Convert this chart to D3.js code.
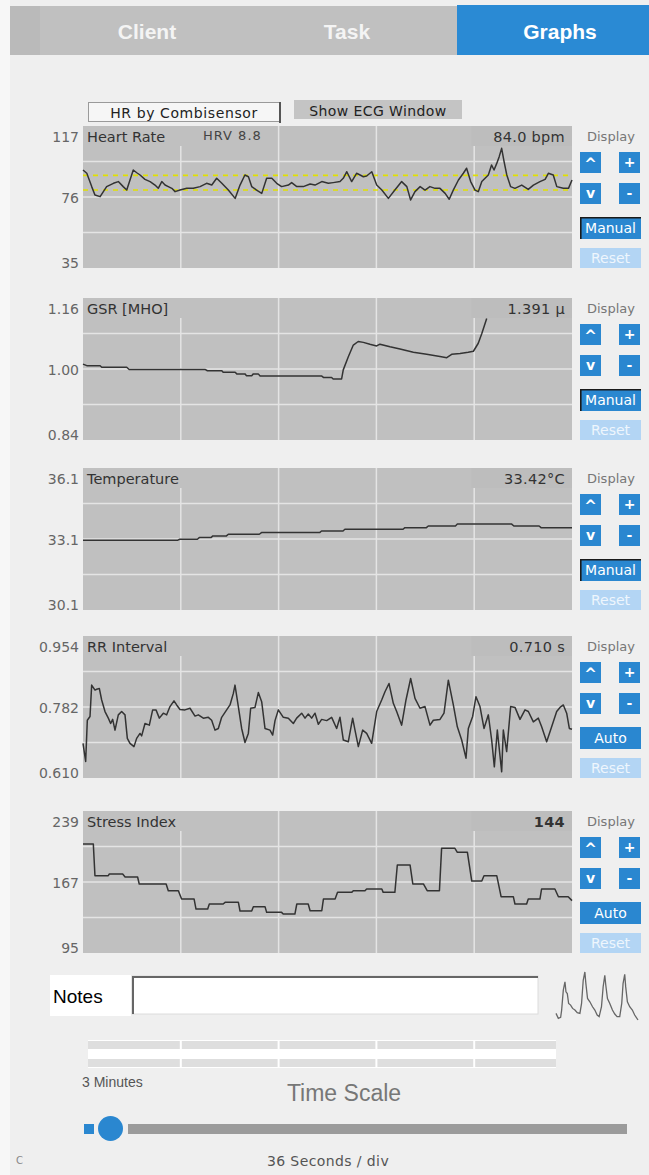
<!DOCTYPE html>
<html><head><meta charset="utf-8">
<script src="https://cdn.jsdelivr.net/npm/d3@7"></script>
<style>
html,body{margin:0;padding:0;background:#f7f7f7;}
svg{display:block;}
text{font-family:"DejaVu Sans",Verdana,sans-serif;}
</style></head>
<body>
<svg id="c" width="649" height="1175"></svg>
<script>
// ---------- data ----------
const tabs = ["Client", "Task", "Graphs"];
const timeDomain = [0, 180]; // seconds (3 minutes, 36 s/div)
const timeDivs = [0, 36, 72, 108, 144, 180];

const hrSeries = [[0,91.6],[1.4,89.7],[3.2,82.0],[4.4,77.2],[6.3,76.2],[7.5,79.1],[8.7,82.0],[11.2,83.9],[13.0,84.9],[14.8,82.0],[16.1,80.0],[17.3,85.8],[18.5,91.6],[19.8,90.0],[21.0,88.7],[22.8,86.2],[24.7,84.9],[26.5,82.9],[27.7,81.0],[29.0,84.9],[30.2,82.9],[31.4,82.0],[32.7,81.0],[33.9,79.1],[35.7,80.0],[38.2,81.0],[40.6,81.0],[43.1,82.0],[45.5,83.9],[47.4,82.9],[49.2,86.8],[51.1,83.9],[53.5,80.0],[56.0,75.2],[57.8,82.9],[59.6,88.7],[60.9,87.7],[62.1,82.0],[63.9,80.0],[65.8,78.1],[67.6,86.8],[69.5,86.8],[71.3,83.9],[73.1,82.0],[75.6,82.9],[76.8,84.3],[78.7,82.0],[81.1,82.0],[83.6,83.5],[85.4,82.9],[87.9,84.9],[90.3,83.9],[92.1,84.3],[94.6,84.9],[95.8,86.8],[97.1,90.6],[98.9,84.9],[100.7,89.7],[102.0,88.7],[103.2,87.7],[104.4,88.1],[106.3,90.6],[108.1,82.9],[110.0,80.0],[112.4,75.2],[114.8,80.0],[117.3,84.9],[119.2,82.0],[120.6,74.3],[122.2,79.1],[124.1,82.0],[125.9,80.0],[127.7,82.0],[129.6,81.0],[131.4,81.0],[133.3,78.1],[134.8,74.7],[136.3,80.0],[138.2,85.8],[140.0,89.7],[141.2,92.6],[142.7,84.9],[144.3,80.0],[145.5,79.1],[146.8,84.9],[148.0,86.8],[149.2,88.7],[150.4,94.5],[151.3,91.6],[152.3,95.4],[153.2,99.3],[154.1,104.1],[155.0,96.4],[156.0,88.7],[157.4,82.0],[159.0,81.0],[161.5,82.9],[163.9,80.4],[165.8,82.9],[168.2,84.9],[170.1,86.2],[171.3,89.7],[173.1,88.7],[174.4,82.0],[176.8,81.0],[178.7,81.0],[180,85.8]];
const hrBand = [80.0, 88.5];

const gsrSeries = [[0,1.011],[1.4,1.0075],[6.3,1.0075],[6.9,1.004],[16.1,1.004],[17.0,0.999],[44.9,0.999],[45.8,0.996],[51.1,0.996],[51.6,0.9925],[56.0,0.9925],[56.6,0.989],[59.6,0.989],[60.2,0.985],[62.1,0.985],[62.7,0.989],[64.5,0.989],[65.2,0.984],[87.9,0.984],[88.5,0.981],[91.5,0.981],[92.1,0.9775],[95.2,0.9775],[95.8,0.998],[97.7,1.028],[99.5,1.054],[101.3,1.062],[103.2,1.060],[105.6,1.0556],[108.1,1.052],[109.3,1.056],[113.0,1.050],[116.7,1.045],[121.6,1.0376],[126.5,1.033],[131.4,1.028],[133.9,1.0256],[135.7,1.033],[138.8,1.035],[141.8,1.0376],[143.7,1.040],[145.5,1.058],[146.8,1.080],[148.6,1.114]];

const tempSeries = [[0,33.05],[34.9,33.05],[35.6,33.09],[42.1,33.09],[42.8,33.16],[47.1,33.16],[47.8,33.23],[52.8,33.23],[53.5,33.30],[64.9,33.30],[65.7,33.37],[87.1,33.37],[87.8,33.44],[95.7,33.44],[96.4,33.51],[117.8,33.51],[118.5,33.58],[126.4,33.58],[127.1,33.65],[137.1,33.65],[137.8,33.73],[157.8,33.73],[158.6,33.65],[167.9,33.65],[168.6,33.58],[180,33.58]];

const rrSeries = [[0,0.694],[0.98,0.650],[1.59,0.750],[2.58,0.759],[3.19,0.835],[4.42,0.823],[5.03,0.825],[6.01,0.827],[6.87,0.799],[8.10,0.771],[9.32,0.755],[10.18,0.742],[10.92,0.752],[11.78,0.726],[13.0,0.763],[14.23,0.771],[15.46,0.763],[16.32,0.706],[17.30,0.694],[18.77,0.686],[19.75,0.706],[20.98,0.718],[21.59,0.712],[22.82,0.742],[24.42,0.738],[25.64,0.775],[26.87,0.775],[28.10,0.755],[29.57,0.767],[30.80,0.763],[32.02,0.783],[33.49,0.797],[34.48,0.787],[35.70,0.776],[37.54,0.775],[39.39,0.779],[41.23,0.760],[42.45,0.763],[44.29,0.755],[46.13,0.757],[47.36,0.750],[48.59,0.726],[49.81,0.730],[51.04,0.757],[52.88,0.775],[54.11,0.787],[55.34,0.815],[55.95,0.835],[57.18,0.783],[58.40,0.730],[59.63,0.696],[60.86,0.718],[61.72,0.779],[63.31,0.781],[64.54,0.817],[65.77,0.795],[66.99,0.730],[68.83,0.726],[69.82,0.714],[70.68,0.749],[71.90,0.775],[73.74,0.757],[75.58,0.755],[77.42,0.742],[78.65,0.755],[80.49,0.767],[81.72,0.755],[82.94,0.765],[84.17,0.755],[85.40,0.767],[86.62,0.740],[87.85,0.752],[89.69,0.749],[91.53,0.757],[93.37,0.730],[94.60,0.757],[95.83,0.702],[97.67,0.698],[99.26,0.755],[100.12,0.726],[101.35,0.686],[102.94,0.726],[104.42,0.718],[106.26,0.694],[108.10,0.771],[109.94,0.799],[111.16,0.819],[112.64,0.839],[114.23,0.791],[115.46,0.771],[117.30,0.738],[118.89,0.799],[120.61,0.851],[122.21,0.803],[124.05,0.779],[125.89,0.783],[127.73,0.738],[128.96,0.750],[131.41,0.752],[132.88,0.767],[134.48,0.847],[136.32,0.787],[137.79,0.734],[139.39,0.702],[140.98,0.658],[141.84,0.730],[143.43,0.759],[144.66,0.807],[146.13,0.783],[147.61,0.730],[149.20,0.763],[150.43,0.702],[151.41,0.637],[152.51,0.726],[154.11,0.625],[154.72,0.726],[155.95,0.674],[157.42,0.783],[159.02,0.781],[160.86,0.752],[162.70,0.775],[163.93,0.771],[165.77,0.746],[167.61,0.755],[168.83,0.734],[170.67,0.698],[172.51,0.734],[174.36,0.771],[175.58,0.781],[176.81,0.787],[178.04,0.767],[179.02,0.730],[180,0.728]];

const stressSeries = [[0,205.5],[3.8,205.5],[4.4,173.4],[9.3,173.4],[9.7,175.1],[14.6,175.1],[15.5,172.1],[20.1,172.1],[20.7,165.0],[30.6,165.0],[31.4,158.2],[35.1,158.2],[36.3,149.7],[40.9,149.7],[41.6,139.6],[45.9,139.6],[46.5,144.7],[51.6,144.7],[52.3,146.4],[57.2,146.4],[57.8,137.6],[62.1,137.6],[62.7,142.0],[67.0,142.0],[67.6,136.2],[73.1,136.2],[73.7,134.5],[78.0,134.5],[78.7,144.7],[82.9,144.7],[83.6,137.9],[87.9,137.9],[88.5,149.7],[92.8,149.7],[93.7,156.5],[98.9,156.5],[99.5,158.2],[103.8,158.2],[104.4,159.9],[110.0,159.9],[110.5,156.5],[114.8,156.5],[115.7,184.2],[120.4,184.2],[121.4,165.0],[125.3,165.0],[126.7,158.2],[131.2,158.2],[132.0,201.1],[136.9,201.1],[137.8,197.1],[141.5,197.1],[143.1,168.0],[146.8,168.0],[147.6,173.4],[152.3,173.4],[153.9,152.1],[158.4,152.1],[159.0,144.7],[163.3,144.7],[163.9,149.7],[168.2,149.7],[168.8,159.9],[173.7,159.9],[175.0,152.1],[178.6,152.1],[180,148.1]];

const chartTitles = ["Heart Rate", "GSR [MHO]", "Temperature", "RR Interval", "Stress Index"];
const chartReadouts = ["84.0 bpm", "1.391 \u00b5", "33.42\u00b0C", "0.710 s", "144"];
const chartTickLabels = [["35","76","117"],["0.84","1.00","1.16"],["30.1","33.1","36.1"],["0.610","0.782","0.954"],["95","167","239"]];
const chartDomains = [[35,117],[0.84,1.16],[30.1,36.1],[0.610,0.954],[95,239]];
const chartModes = ["Manual","Manual","Manual","Auto","Auto"];
const chartSeries = [hrSeries, gsrSeries, tempSeries, rrSeries, stressSeries];

const ecgSeries = [[48,20],[55,5],[62,8],[65,30],[70,90],[75,115],[78,85],[82,80],[86,50],[92,45],[98,35],[105,30],[112,22],[120,20],[125,50],[130,120],[135,145],[138,110],[143,65],[150,55],[158,40],[165,30],[172,15],[178,10],[185,40],[190,100],[195,135],[198,105],[203,65],[210,50],[218,30],[225,18],[232,10],[240,10],[246,50],[250,110],[255,138],[258,100],[263,55],[270,40],[278,30],[285,15],[295,0]];

// ---------- drawing ----------
const svg = d3.select("#c");
const BLUE = "#2a87d0";
const W = 649;

// page panel
svg.append("rect").attr("x",10).attr("y",0).attr("width",W-10).attr("height",1175).attr("fill","#efefef");

// tabs
svg.append("rect").attr("x",10).attr("y",6).attr("width",W-10).attr("height",49).attr("fill","#c0c0c0");
svg.append("rect").attr("x",10).attr("y",6).attr("width",30).attr("height",49).attr("fill","#bababa");
const tabX = d3.scaleOrdinal().domain(tabs).range([147, 347, 560]);
svg.append("rect").attr("x",457).attr("y",5).attr("width",W-457).attr("height",50).attr("fill","#2a8ad4");
svg.selectAll("text.tab").data(tabs).join("text").attr("class","tab")
  .attr("x", d => tabX(d)).attr("y", 39).attr("text-anchor","middle")
  .attr("fill", d => d === "Graphs" ? "#ffffff" : "#f4f4f4")
  .style("font-family","'Liberation Sans',Arial,sans-serif").style("font-weight","bold").style("font-size","21px")
  .text(d => d);

// top buttons
svg.append("rect").attr("x",88.5).attr("y",102.5).attr("width",191).attr("height",19).attr("fill","#f6f6f6").attr("stroke","#9a9a9a");
svg.append("line").attr("x1",280).attr("x2",280).attr("y1",102).attr("y2",123).attr("stroke","#555").attr("stroke-width",2);
svg.append("text").attr("x",184).attr("y",118).attr("text-anchor","middle").attr("fill","#222").style("font-size","14px").style("letter-spacing","0.6px").text("HR by Combisensor");
svg.append("rect").attr("x",294).attr("y",100).attr("width",168).attr("height",19).attr("fill","#c4c4c4");
svg.append("text").attr("x",378).attr("y",116).attr("text-anchor","middle").attr("fill","#222").style("font-size","14px").style("letter-spacing","0.4px").text("Show ECG Window");

// charts
const x = d3.scaleLinear().domain(timeDomain).range([83, 572]);
const chartTops = [126, 298, 468, 636, 811];
const PH = 142;

chartTops.forEach((T, i) => {
  const [lo, hi] = chartDomains[i];
  const y = d3.scaleLinear().domain([lo, hi]).range([T + PH, T]);
  const g = svg.append("g");
  g.append("rect").attr("x", x(0)).attr("y", T).attr("width", x(180) - x(0)).attr("height", PH).attr("fill", "#c0c0c0");
  // horizontal grid
  const q = [0.25, 0.5, 0.75].map(f => lo + (hi - lo) * f);
  g.selectAll("line.h").data(q).join("line")
    .attr("x1", x(0)).attr("x2", x(180)).attr("y1", d => y(d)).attr("y2", d => y(d))
    .attr("stroke", "#e4e4e4").attr("stroke-width", 1.5);
  // vertical grid
  const inner = timeDivs.slice(1, -1);
  g.selectAll("line.v").data(inner).join("line")
    .attr("x1", d => x(d)).attr("x2", d => x(d))
    .attr("y1", (d, k) => (k === 0 || k === inner.length - 1) ? T + 20 : T).attr("y2", T + PH)
    .attr("stroke", "#e4e4e4").attr("stroke-width", 1.5);
  // readout box shade
  g.append("rect").attr("x", x(timeDivs[4]) - 3).attr("y", T).attr("width", x(180) - x(timeDivs[4]) + 3).attr("height", 20).attr("fill", "#bdbdbd");

  if (i === 0) {
    g.selectAll("line.band").data(hrBand).join("line")
      .attr("x1", x(0)).attr("x2", x(180)).attr("y1", d => y(d)).attr("y2", d => y(d))
      .attr("stroke", "#e0e000").attr("stroke-width", 1.6).attr("stroke-dasharray", "5,5");
  }
  const line = d3.line().x(d => x(d[0])).y(d => y(d[1]));
  g.append("path").datum(chartSeries[i]).attr("d", line).attr("fill", "none")
    .attr("stroke", "#333").attr("stroke-width", 1.5).attr("stroke-linejoin", "round");

  // titles
  g.append("text").attr("x", 87).attr("y", T + 16).attr("fill", "#333").style("font-size", "14.5px").text(chartTitles[i]);
  g.append("text").attr("x", 565).attr("y", T + 16).attr("text-anchor", "end").attr("fill", "#333")
    .style("font-size", "14.5px").style("font-weight", i === 4 ? "bold" : "normal").style("letter-spacing","0.3px").text(chartReadouts[i]);
  if (i === 0) g.append("text").attr("x", 203).attr("y", T + 14).attr("fill", "#444").style("font-size", "13px").style("letter-spacing", "1px").text("HRV 8.8");

  // y labels
  const tl = chartTickLabels[i];
  const ty = [y(lo), y((lo + hi) / 2) + 6, y(hi) + 16];
  g.selectAll("text.yl").data(tl).join("text").attr("x", 79).attr("y", (d, k) => ty[k])
    .attr("text-anchor", "end").attr("fill", "#666").style("font-size", "14px").text(d => d);

  // controls
  g.append("text").attr("x", 587).attr("y", T + 15).attr("fill", "#777").style("font-size", "13px").text("Display");
  const btns = [["^", 580, T + 26], ["+", 619, T + 26], ["v", 580, T + 57], ["-", 619, T + 57]];
  btns.forEach(b => {
    g.append("rect").attr("x", b[1]).attr("y", b[2]).attr("width", 21).attr("height", 21).attr("fill", BLUE);
    g.append("text").attr("x", b[1] + 10.5).attr("y", b[2] + (b[0] === "^" ? 17 : 15)).attr("text-anchor", "middle")
      .attr("fill", "#fff").style("font-size", b[0] === "^" ? "15px" : "14px").style("font-weight", "bold").text(b[0]);
  });
  g.append("rect").attr("x", 580).attr("y", T + 91).attr("width", 61).attr("height", 22).attr("fill", BLUE);
  if (chartModes[i] === "Manual") {
    g.append("path").attr("d", `M580.8,${T + 113}V${T + 91.8}H641`).attr("fill", "none").attr("stroke", "#1a1a1a").attr("stroke-width", 1.6);
  }
  g.append("text").attr("x", 610.5).attr("y", T + 107).attr("text-anchor", "middle").attr("fill", "#fff").style("font-size", "14px").text(chartModes[i]);
  g.append("rect").attr("x", 580).attr("y", T + 122).attr("width", 61).attr("height", 20).attr("fill", "#b3d5f4");
  g.append("text").attr("x", 610.5).attr("y", T + 137).attr("text-anchor", "middle").attr("fill", "#eef6fd").style("font-size", "14px").text("Reset");
});

// notes
svg.append("rect").attr("x", 50).attr("y", 975).attr("width", 81).attr("height", 41).attr("fill", "#fff");
svg.append("text").attr("x", 53).attr("y", 1003).attr("fill", "#000").style("font-family", "'Liberation Sans',Arial,sans-serif").style("font-size", "19px").text("Notes");
svg.append("rect").attr("x", 132).attr("y", 976).attr("width", 406).attr("height", 38).attr("fill", "#fff").attr("stroke", "#dcdcdc");
svg.append("path").attr("d", "M133,1014V977H538").attr("fill", "none").attr("stroke", "#666").attr("stroke-width", 2);

// ECG thumbnail
const ex = d3.scaleLinear().domain([48, 295]).range([556, 638]);
const ey = d3.scaleLinear().domain([0, 145]).range([1020, 972]);
svg.append("path").datum(ecgSeries).attr("d", d3.line().x(d => ex(d[0])).y(d => ey(d[1])))
  .attr("fill", "none").attr("stroke", "#666").attr("stroke-width", 1.3);

// time scale bars
const tx = d3.scaleLinear().domain(timeDomain).range([88, 556]);
svg.append("rect").attr("x", 88).attr("y", 1040).attr("width", 468).attr("height", 28).attr("fill", "#fff");
[1041, 1059].forEach(yy => svg.append("rect").attr("x", 88).attr("y", yy).attr("width", 468).attr("height", 8).attr("fill", "#dedede"));
svg.selectAll("line.sep").data(timeDivs.slice(1, -1)).join("line")
  .attr("x1", d => x(d)).attr("x2", d => x(d)).attr("y1", 1040).attr("y2", 1068).attr("stroke", "#fff").attr("stroke-width", 2);
svg.append("text").attr("x", 82).attr("y", 1087).attr("fill", "#555").style("font-family", "'Liberation Sans',Arial,sans-serif").style("font-size", "14px").text("3 Minutes");
svg.append("text").attr("x", 344).attr("y", 1101).attr("text-anchor", "middle").attr("fill", "#777").style("font-family", "'Liberation Sans',Arial,sans-serif").style("font-size", "23px").text("Time Scale");

// slider
svg.append("rect").attr("x", 128).attr("y", 1124).attr("width", 499).attr("height", 10).attr("fill", "#9b9b9b");
svg.append("rect").attr("x", 84).attr("y", 1124).attr("width", 10).attr("height", 10).attr("fill", BLUE);
svg.append("circle").attr("cx", 110.5).attr("cy", 1128.5).attr("r", 12.5).attr("fill", BLUE);
svg.append("text").attr("x", 328).attr("y", 1166).attr("text-anchor", "middle").attr("fill", "#555").style("font-size", "14px").style("letter-spacing","0.4px").text("36 Seconds / div");
svg.append("text").attr("x", 16).attr("y", 1164).attr("fill", "#888").style("font-size", "10px").text("C");
</script>
</body></html>
